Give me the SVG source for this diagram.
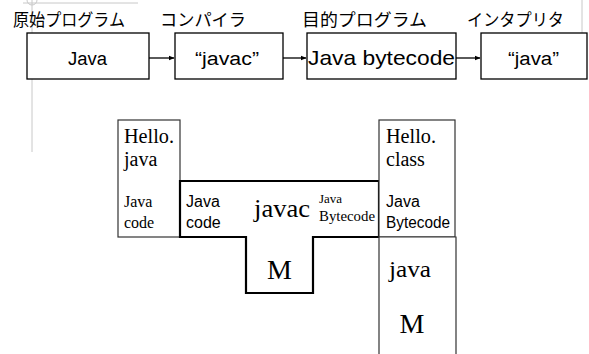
<svg xmlns="http://www.w3.org/2000/svg" width="589" height="354" viewBox="0 0 589 354">
<defs>
<style>
.box{fill:#fff;stroke:#000;stroke-width:1.3}
.thin{fill:#fff;stroke:#333;stroke-width:1.2}
.thick{fill:#fff;stroke:#000;stroke-width:2.2}
.jp{font-family:"Noto Sans CJK JP","Noto Sans",sans-serif;font-size:17px;fill:#000}
.sans{font-family:"Liberation Sans","DejaVu Sans",sans-serif;fill:#000}
.serif{font-family:"Liberation Serif","DejaVu Serif",serif;fill:#000}
.guide{stroke:#c8c8c8;stroke-width:1;fill:none}
.conn{stroke:#000;stroke-width:1.3;fill:none}
</style>
<marker id="ah" markerWidth="6" markerHeight="6" refX="5.5" refY="3" orient="auto" markerUnits="userSpaceOnUse">
<path d="M0,0.5 L6,3 L0,5.5 Z" fill="#000"/>
</marker>
</defs>
<rect width="589" height="354" fill="#fff"/>
<g id="guides">
<line class="guide" x1="23" y1="3" x2="138" y2="3"/>
<line class="guide" x1="32" y1="0" x2="32" y2="152"/>
<circle class="guide" cx="32" cy="0" r="5"/>
<line class="guide" x1="582" y1="0" x2="582" y2="33"/>
</g>
<g id="labels">
<text class="jp" x="13" y="26" textLength="112" lengthAdjust="spacingAndGlyphs">原始プログラム</text>
<text class="jp" x="160" y="26" textLength="86" lengthAdjust="spacingAndGlyphs">コンパイラ</text>
<text class="jp" x="302" y="26" textLength="125" lengthAdjust="spacingAndGlyphs">目的プログラム</text>
<text class="jp" x="467" y="26" textLength="97" lengthAdjust="spacingAndGlyphs">インタプリタ</text>
</g>
<g id="connectors">
<line class="conn" x1="149" y1="58" x2="174" y2="58" marker-end="url(#ah)"/>
<line class="conn" x1="283" y1="58" x2="306" y2="58" marker-end="url(#ah)"/>
<line class="conn" x1="456" y1="58" x2="480" y2="58" marker-end="url(#ah)"/>
</g>
<g id="n-java">
<rect class="box" x="27" y="33" width="122" height="46"/>
<text class="sans" x="68" y="65" font-size="18" textLength="39" lengthAdjust="spacingAndGlyphs">Java</text>
</g>
<g id="n-javac">
<rect class="box" x="175" y="33" width="108" height="46"/>
<text class="sans" x="195" y="65" font-size="18" textLength="64" lengthAdjust="spacingAndGlyphs">“javac”</text>
</g>
<g id="n-bytecode">
<rect class="box" x="307" y="33" width="149" height="46"/>
<text class="sans" x="308" y="65" font-size="21" textLength="147" lengthAdjust="spacingAndGlyphs">Java bytecode</text>
</g>
<g id="n-javavm">
<rect class="box" x="481" y="33" width="106" height="46"/>
<text class="sans" x="508" y="65" font-size="18" textLength="51" lengthAdjust="spacingAndGlyphs">“java”</text>
</g>
<g id="t-hellojava">
<rect class="thin" x="118" y="120" width="62" height="117"/>
<text class="serif" x="124" y="143" font-size="20" textLength="50" lengthAdjust="spacingAndGlyphs">Hello.</text>
<text class="serif" x="124" y="166" font-size="20">java</text>
<text class="serif" x="124" y="207" font-size="16">Java</text>
<text class="serif" x="124" y="228" font-size="16">code</text>
</g>
<g id="t-javac">
<path class="thick" d="M180,181 H379 V237 H313 V293 H246 V237 H180 Z"/>
<text class="sans" x="186" y="207" font-size="16">Java</text>
<text class="sans" x="186" y="228" font-size="16">code</text>
<text class="serif" x="254" y="217" font-size="25" textLength="56" lengthAdjust="spacingAndGlyphs">javac</text>
<text class="serif" x="319" y="203" font-size="13">Java</text>
<text class="serif" x="319" y="221" font-size="14" textLength="56" lengthAdjust="spacingAndGlyphs">Bytecode</text>
<text class="serif" x="279.5" y="279" font-size="28" text-anchor="middle">M</text>
</g>
<g id="t-helloclass">
<rect class="thin" x="379" y="120" width="76" height="117"/>
<text class="serif" x="386" y="143" font-size="20" textLength="50" lengthAdjust="spacingAndGlyphs">Hello.</text>
<text class="serif" x="386" y="166" font-size="20">class</text>
<text class="sans" x="386" y="207" font-size="16">Java</text>
<text class="sans" x="386" y="228" font-size="16" textLength="64" lengthAdjust="spacingAndGlyphs">Bytecode</text>
</g>
<g id="t-java">
<path class="thin" d="M379,354 V237 H456 V354" fill="none"/>
<text class="serif" x="389" y="277" font-size="24" textLength="42" lengthAdjust="spacingAndGlyphs">java</text>
<text class="serif" x="412" y="333" font-size="28" text-anchor="middle">M</text>
</g>
</svg>
